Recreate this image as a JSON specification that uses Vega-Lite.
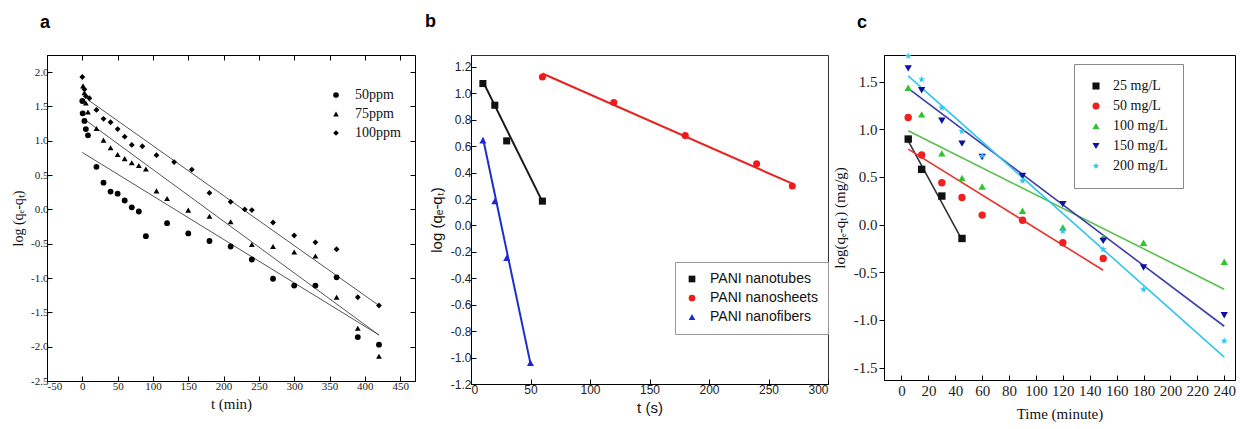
{
 "$schema": "https://vega.github.io/schema/vega-lite/v6.json",
 "background": "white",
 "padding": {"left": 11, "top": 12, "right": 0, "bottom": 0},
 "spacing": 56,
 "bounds": "flush",
 "config": {
  "locale": {"number": {"decimal": ".", "thousands": ",", "grouping": [3], "currency": ["$", ""], "minus": "-"}},
  "view": {"stroke": "black", "strokeWidth": 1},
  "axis": {"grid": false, "domainColor": "black", "tickColor": "black", "labelColor": "#222", "titleColor": "#111", "titleFontWeight": "normal"}
 },
 "resolve": {"scale": {"x": "independent", "y": "independent", "color": "independent", "shape": "independent"}},
 "datasets": {
  "a_pts": [
   {"series": "50ppm", "t": 0, "y": 1.58}, {"series": "50ppm", "t": 0.5, "y": 1.40}, {"series": "50ppm", "t": 3, "y": 1.29}, {"series": "50ppm", "t": 5, "y": 1.17}, {"series": "50ppm", "t": 8, "y": 1.08},
   {"series": "50ppm", "t": 20, "y": 0.62}, {"series": "50ppm", "t": 30, "y": 0.39}, {"series": "50ppm", "t": 40, "y": 0.26}, {"series": "50ppm", "t": 50, "y": 0.23}, {"series": "50ppm", "t": 60, "y": 0.13},
   {"series": "50ppm", "t": 70, "y": 0.03}, {"series": "50ppm", "t": 80, "y": -0.03}, {"series": "50ppm", "t": 90, "y": -0.39}, {"series": "50ppm", "t": 120, "y": -0.20}, {"series": "50ppm", "t": 150, "y": -0.35},
   {"series": "50ppm", "t": 180, "y": -0.46}, {"series": "50ppm", "t": 210, "y": -0.54}, {"series": "50ppm", "t": 240, "y": -0.73}, {"series": "50ppm", "t": 270, "y": -1.01}, {"series": "50ppm", "t": 300, "y": -1.11},
   {"series": "50ppm", "t": 330, "y": -1.11}, {"series": "50ppm", "t": 360, "y": -0.99}, {"series": "50ppm", "t": 390, "y": -1.86}, {"series": "50ppm", "t": 420, "y": -1.97},
   {"series": "75ppm", "t": 1, "y": 1.80}, {"series": "75ppm", "t": 3, "y": 1.70}, {"series": "75ppm", "t": 5, "y": 1.55}, {"series": "75ppm", "t": 8, "y": 1.42}, {"series": "75ppm", "t": 20, "y": 1.18},
   {"series": "75ppm", "t": 30, "y": 1.01}, {"series": "75ppm", "t": 40, "y": 0.90}, {"series": "75ppm", "t": 50, "y": 0.80}, {"series": "75ppm", "t": 60, "y": 0.74}, {"series": "75ppm", "t": 70, "y": 0.68},
   {"series": "75ppm", "t": 80, "y": 0.64}, {"series": "75ppm", "t": 90, "y": 0.59}, {"series": "75ppm", "t": 105, "y": 0.27}, {"series": "75ppm", "t": 120, "y": 0.16}, {"series": "75ppm", "t": 150, "y": -0.01},
   {"series": "75ppm", "t": 180, "y": -0.10}, {"series": "75ppm", "t": 210, "y": -0.18}, {"series": "75ppm", "t": 240, "y": -0.51}, {"series": "75ppm", "t": 270, "y": -0.54}, {"series": "75ppm", "t": 300, "y": -0.62},
   {"series": "75ppm", "t": 330, "y": -0.68}, {"series": "75ppm", "t": 360, "y": -1.28}, {"series": "75ppm", "t": 390, "y": -1.73}, {"series": "75ppm", "t": 420, "y": -2.14},
   {"series": "100ppm", "t": 0, "y": 1.93}, {"series": "100ppm", "t": 3, "y": 1.75}, {"series": "100ppm", "t": 5, "y": 1.65}, {"series": "100ppm", "t": 10, "y": 1.62}, {"series": "100ppm", "t": 20, "y": 1.45},
   {"series": "100ppm", "t": 30, "y": 1.32}, {"series": "100ppm", "t": 40, "y": 1.27}, {"series": "100ppm", "t": 50, "y": 1.17}, {"series": "100ppm", "t": 60, "y": 1.06}, {"series": "100ppm", "t": 70, "y": 0.94},
   {"series": "100ppm", "t": 85, "y": 0.92}, {"series": "100ppm", "t": 105, "y": 0.79}, {"series": "100ppm", "t": 130, "y": 0.69}, {"series": "100ppm", "t": 155, "y": 0.58}, {"series": "100ppm", "t": 180, "y": 0.24},
   {"series": "100ppm", "t": 210, "y": 0.11}, {"series": "100ppm", "t": 230, "y": 0.00}, {"series": "100ppm", "t": 240, "y": -0.01}, {"series": "100ppm", "t": 270, "y": -0.19}, {"series": "100ppm", "t": 300, "y": -0.38},
   {"series": "100ppm", "t": 330, "y": -0.48}, {"series": "100ppm", "t": 360, "y": -0.58}, {"series": "100ppm", "t": 390, "y": -1.28}, {"series": "100ppm", "t": 420, "y": -1.40}
  ],
  "a_lines": [
   {"series": "100ppm", "t": 9, "y": 1.59}, {"series": "100ppm", "t": 420, "y": -1.40},
   {"series": "75ppm", "t": 2, "y": 1.32}, {"series": "75ppm", "t": 420, "y": -1.83},
   {"series": "50ppm", "t": 0, "y": 0.83}, {"series": "50ppm", "t": 420, "y": -1.83}
  ],
  "b_pts": [
   {"sample": "PANI nanotubes", "t": 10, "y": 1.074}, {"sample": "PANI nanotubes", "t": 20, "y": 0.91}, {"sample": "PANI nanotubes", "t": 30, "y": 0.64}, {"sample": "PANI nanotubes", "t": 60, "y": 0.184},
   {"sample": "PANI nanosheets", "t": 60, "y": 1.124}, {"sample": "PANI nanosheets", "t": 120, "y": 0.93}, {"sample": "PANI nanosheets", "t": 180, "y": 0.68}, {"sample": "PANI nanosheets", "t": 240, "y": 0.467}, {"sample": "PANI nanosheets", "t": 270, "y": 0.298},
   {"sample": "PANI nanofibers", "t": 10, "y": 0.644}, {"sample": "PANI nanofibers", "t": 20, "y": 0.184}, {"sample": "PANI nanofibers", "t": 30, "y": -0.245}, {"sample": "PANI nanofibers", "t": 50, "y": -1.04}
  ],
  "b_lines": [
   {"sample": "PANI nanotubes", "t": 10, "y": 1.09}, {"sample": "PANI nanotubes", "t": 60, "y": 0.18},
   {"sample": "PANI nanosheets", "t": 60, "y": 1.15}, {"sample": "PANI nanosheets", "t": 270, "y": 0.316},
   {"sample": "PANI nanofibers", "t": 10, "y": 0.664}, {"sample": "PANI nanofibers", "t": 50, "y": -1.046}
  ],
  "c_pts": [
   {"conc": "25 mg/L", "t": 5, "y": 0.898}, {"conc": "25 mg/L", "t": 15, "y": 0.58}, {"conc": "25 mg/L", "t": 30, "y": 0.30}, {"conc": "25 mg/L", "t": 45, "y": -0.145},
   {"conc": "50 mg/L", "t": 5, "y": 1.125}, {"conc": "50 mg/L", "t": 15, "y": 0.73}, {"conc": "50 mg/L", "t": 30, "y": 0.44}, {"conc": "50 mg/L", "t": 45, "y": 0.285}, {"conc": "50 mg/L", "t": 60, "y": 0.10}, {"conc": "50 mg/L", "t": 90, "y": 0.047}, {"conc": "50 mg/L", "t": 120, "y": -0.19}, {"conc": "50 mg/L", "t": 150, "y": -0.355},
   {"conc": "100 mg/L", "t": 5, "y": 1.437}, {"conc": "100 mg/L", "t": 15, "y": 1.157}, {"conc": "100 mg/L", "t": 30, "y": 0.748}, {"conc": "100 mg/L", "t": 45, "y": 0.49}, {"conc": "100 mg/L", "t": 60, "y": 0.40}, {"conc": "100 mg/L", "t": 90, "y": 0.145}, {"conc": "100 mg/L", "t": 120, "y": -0.03}, {"conc": "100 mg/L", "t": 150, "y": -0.13}, {"conc": "100 mg/L", "t": 180, "y": -0.19}, {"conc": "100 mg/L", "t": 240, "y": -0.39},
   {"conc": "150 mg/L", "t": 5, "y": 1.64}, {"conc": "150 mg/L", "t": 15, "y": 1.41}, {"conc": "150 mg/L", "t": 30, "y": 1.09}, {"conc": "150 mg/L", "t": 45, "y": 0.85}, {"conc": "150 mg/L", "t": 60, "y": 0.71}, {"conc": "150 mg/L", "t": 90, "y": 0.51}, {"conc": "150 mg/L", "t": 120, "y": 0.215}, {"conc": "150 mg/L", "t": 150, "y": -0.17}, {"conc": "150 mg/L", "t": 180, "y": -0.45}, {"conc": "150 mg/L", "t": 240, "y": -0.95},
   {"conc": "200 mg/L", "t": 5, "y": 1.77}, {"conc": "200 mg/L", "t": 15, "y": 1.524}, {"conc": "200 mg/L", "t": 30, "y": 1.227}, {"conc": "200 mg/L", "t": 45, "y": 0.98}, {"conc": "200 mg/L", "t": 60, "y": 0.72}, {"conc": "200 mg/L", "t": 90, "y": 0.46}, {"conc": "200 mg/L", "t": 120, "y": -0.07}, {"conc": "200 mg/L", "t": 150, "y": -0.26}, {"conc": "200 mg/L", "t": 180, "y": -0.68}, {"conc": "200 mg/L", "t": 240, "y": -1.22}
  ],
  "c_lines": [
   {"conc": "25 mg/L", "t": 5, "y": 0.88}, {"conc": "25 mg/L", "t": 45, "y": -0.16},
   {"conc": "50 mg/L", "t": 5, "y": 0.793}, {"conc": "50 mg/L", "t": 150, "y": -0.478},
   {"conc": "100 mg/L", "t": 5, "y": 0.985}, {"conc": "100 mg/L", "t": 240, "y": -0.677},
   {"conc": "150 mg/L", "t": 5, "y": 1.43}, {"conc": "150 mg/L", "t": 240, "y": -1.066},
   {"conc": "200 mg/L", "t": 5, "y": 1.56}, {"conc": "200 mg/L", "t": 240, "y": -1.39}
  ]
 },
 "hconcat": [
  {
   "width": 368, "height": 326,
   "title": {"text": "a", "anchor": "start", "frame": "group", "dx": -7, "font": "Liberation Sans", "fontWeight": "bold", "fontSize": 18, "offset": 23, "color": "black"},
   "layer": [
    {
     "data": {"name": "a_lines"},
     "mark": {"type": "line", "color": "#555", "strokeWidth": 1},
     "encoding": {
      "x": {"field": "t", "type": "quantitative", "scale": {"domain": [-50, 471], "nice": false, "zero": false},
            "axis": {"orient": "top", "labels": false, "title": null, "domain": false, "values": [-50, 0, 50, 100, 150, 200, 250, 300, 350, 400, 450], "tickSize": -5}},
      "y": {"field": "y", "type": "quantitative", "scale": {"domain": [-2.5, 2.25], "nice": false, "zero": false},
            "axis": {"orient": "right", "labels": false, "title": null, "domain": false, "values": [-2.5, -2, -1.5, -1, -0.5, 0, 0.5, 1, 1.5, 2], "tickSize": -5}},
      "detail": {"field": "series"}
     }
    },
    {
     "data": {"name": "a_pts"},
     "mark": {"type": "point", "filled": true, "opacity": 1, "size": 34, "color": "black"},
     "encoding": {
      "x": {"field": "t", "type": "quantitative",
            "axis": {"title": "t (min)", "values": [-50, 0, 50, 100, 150, 200, 250, 300, 350, 400, 450], "tickSize": -5, "labelPadding": 4, "labelFont": "Liberation Serif", "labelFontSize": 11, "titleFont": "Liberation Serif", "titleFontSize": 15, "titlePadding": 5}},
      "y": {"field": "y", "type": "quantitative",
            "axis": {"title": "log (qₑ-qₜ)", "format": ".1f", "values": [-2.5, -2, -1.5, -1, -0.5, 0, 0.5, 1, 1.5, 2], "tickSize": -5, "labelPadding": 4, "labelFont": "Liberation Serif", "labelFontSize": 11, "titleFont": "Liberation Serif", "titleFontSize": 14, "titlePadding": 5}},
      "shape": {"field": "series", "type": "nominal",
                "scale": {"domain": ["50ppm", "75ppm", "100ppm"], "range": ["circle", "triangle-up", "diamond"]},
                "legend": {"orient": "none", "legendX": 282, "legendY": 33, "title": null, "labelFont": "Liberation Serif", "labelFontSize": 14, "labelColor": "#111", "symbolSize": 32, "symbolFillColor": "black", "symbolStrokeColor": "black", "labelOffset": 12, "rowPadding": 5}}
     }
    }
   ],
   "resolve": {"axis": {"x": "independent", "y": "independent"}}
  },
  {
   "width": 357, "height": 329,
   "view": {"stroke": "#333"},
   "title": {"text": "b", "anchor": "start", "frame": "group", "dx": -46, "font": "Liberation Sans", "fontWeight": "bold", "fontSize": 18, "offset": 24, "color": "black"},
   "encoding": {
    "x": {"field": "t", "type": "quantitative", "scale": {"domain": [0, 300], "nice": false, "zero": false},
          "axis": {"title": "t (s)", "values": [0, 50, 100, 150, 200, 250, 300], "tickSize": -5, "labelPadding": 5, "labelFont": "Liberation Sans", "labelFontSize": 12, "titleFont": "Liberation Sans", "titleFontSize": 15, "titlePadding": 5}},
    "y": {"field": "y", "type": "quantitative", "scale": {"domain": [-1.2, 1.29], "nice": false, "zero": false},
          "axis": {"title": "log (qₑ-qₜ)", "format": ".1f", "values": [-1.2, -1, -0.8, -0.6, -0.4, -0.2, 0, 0.2, 0.4, 0.6, 0.8, 1, 1.2], "tickSize": -5, "labelPadding": 5, "labelFont": "Liberation Sans", "labelFontSize": 12, "titleFont": "Liberation Sans", "titleFontSize": 15, "titlePadding": 6}}
   },
   "layer": [
    {
     "data": {"name": "b_lines"},
     "mark": {"type": "line", "strokeWidth": 2},
     "encoding": {
      "color": {"field": "sample", "type": "nominal", "legend": null,
                "scale": {"domain": ["PANI nanotubes", "PANI nanosheets", "PANI nanofibers"], "range": ["#1a1a1a", "#e8231f", "#1d2fc8"]}}
     }
    },
    {
     "data": {"name": "b_pts"},
     "mark": {"type": "point", "filled": true, "opacity": 1, "size": 50},
     "encoding": {
      "color": {"field": "sample", "type": "nominal",
                "scale": {"domain": ["PANI nanotubes", "PANI nanosheets", "PANI nanofibers"], "range": ["#111111", "#f01a1a", "#1c28d8"]},
                "legend": {"orient": "none", "legendX": 204, "legendY": 207, "title": null, "labelFont": "Liberation Sans", "labelFontSize": 14, "labelColor": "#111", "symbolSize": 45, "labelOffset": 11, "rowPadding": 5, "padding": 10, "strokeColor": "#999", "fillColor": "white"}},
      "shape": {"field": "sample", "type": "nominal",
                "scale": {"domain": ["PANI nanotubes", "PANI nanosheets", "PANI nanofibers"], "range": ["square", "circle", "triangle-up"]}}
     }
    }
   ],
   "resolve": {"scale": {"color": "independent"}, "legend": {"color": "independent", "shape": "independent"}}
  },
  {
   "width": 351, "height": 325,
   "title": {"text": "c", "anchor": "start", "frame": "group", "dx": -27, "font": "Liberation Sans", "fontWeight": "bold", "fontSize": 18, "offset": 20, "color": "black"},
   "encoding": {
    "x": {"field": "t", "type": "quantitative", "scale": {"domain": [-13, 248], "nice": false, "zero": false},
          "axis": {"title": "Time (minute)", "values": [0, 20, 40, 60, 80, 100, 120, 140, 160, 180, 200, 220, 240], "tickSize": -5, "labelPadding": 8, "labelFont": "Liberation Serif", "labelFontSize": 15, "titleFont": "Liberation Serif", "titleFontSize": 15, "titlePadding": 8}},
    "y": {"field": "y", "type": "quantitative", "scale": {"domain": [-1.63, 1.78], "nice": false, "zero": false},
          "axis": {"title": "log(qₑ-qₜ) (mg/g)", "format": ".1f", "values": [-1.5, -1, -0.5, 0, 0.5, 1, 1.5], "tickSize": 5, "labelPadding": 2, "labelFont": "Liberation Serif", "labelFontSize": 15, "titleFont": "Liberation Serif", "titleFontSize": 15, "titlePadding": 6}}
   },
   "layer": [
    {
     "data": {"name": "c_lines"},
     "mark": {"type": "line", "strokeWidth": 1.6},
     "encoding": {
      "color": {"field": "conc", "type": "nominal", "legend": null,
                "scale": {"domain": ["25 mg/L", "50 mg/L", "100 mg/L", "150 mg/L", "200 mg/L"], "range": ["#333333", "#e8342e", "#55c24a", "#3c3cac", "#30c4ee"]}}
     }
    },
    {
     "data": {"name": "c_pts"},
     "mark": {"type": "point", "filled": true, "opacity": 1, "size": 55},
     "encoding": {
      "color": {"field": "conc", "type": "nominal",
                "scale": {"domain": ["25 mg/L", "50 mg/L", "100 mg/L", "150 mg/L", "200 mg/L"], "range": ["#111111", "#ee2020", "#2fc42f", "#10109c", "#2cc8f4"]},
                "legend": {"orient": "none", "legendX": 190, "legendY": 9, "title": null, "labelFont": "Liberation Serif", "labelFontSize": 14, "labelColor": "#111", "symbolSize": 50, "labelOffset": 10, "rowPadding": 6, "padding": 15, "strokeColor": "#888", "fillColor": "white"}},
      "shape": {"field": "conc", "type": "nominal",
                "scale": {"domain": ["25 mg/L", "50 mg/L", "100 mg/L", "150 mg/L", "200 mg/L"], "range": ["square", "circle", "triangle-up", "triangle-down", "M0,-1L0.235,-0.324L0.951,-0.309L0.38,0.124L0.588,0.809L0,0.4L-0.588,0.809L-0.38,0.124L-0.951,-0.309L-0.235,-0.324Z"]}}
     }
    }
   ],
   "resolve": {"scale": {"color": "independent"}, "legend": {"color": "independent", "shape": "independent"}}
  }
 ]
}
